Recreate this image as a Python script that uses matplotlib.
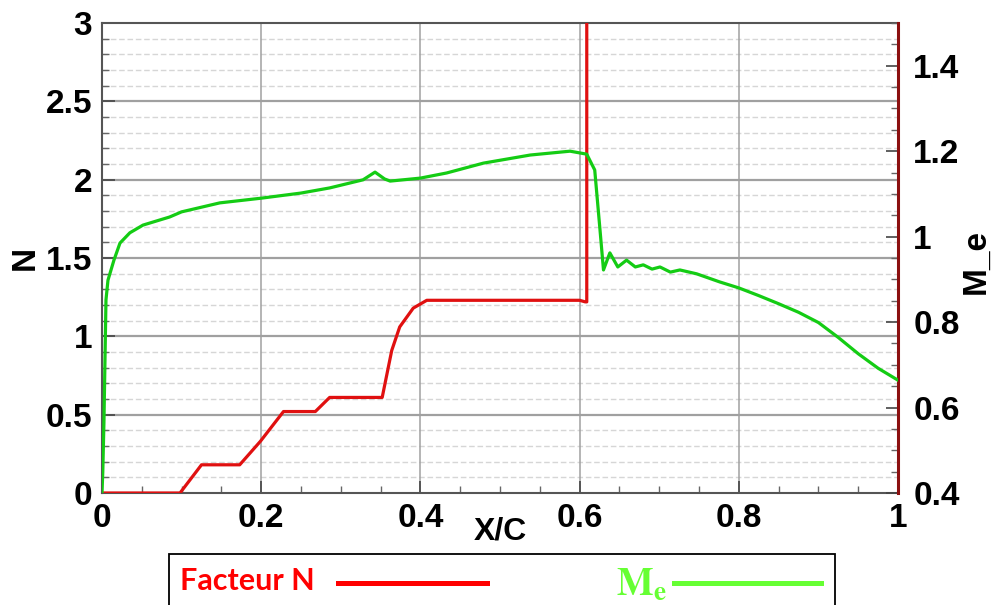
import matplotlib
matplotlib.use("Agg")
import matplotlib.pyplot as plt
from matplotlib.ticker import MultipleLocator, FuncFormatter
from matplotlib.patches import Rectangle

# ---- data ----
x_n = [0.0, 0.098, 0.125, 0.173, 0.199, 0.228, 0.268, 0.286, 0.352, 0.359,
       0.364, 0.374, 0.391, 0.408, 0.600, 0.607, 0.609, 0.609]
n_factor = [0.0, 0.0, 0.18, 0.18, 0.33, 0.52, 0.52, 0.61, 0.61, 0.785,
            0.91, 1.06, 1.18, 1.23, 1.23, 1.22, 1.22, 3.2]

x_me = [0.0, 0.001, 0.0025, 0.005, 0.0075, 0.015, 0.0226, 0.035, 0.0515, 0.085,
        0.10, 0.148, 0.20, 0.25, 0.286, 0.328, 0.343, 0.355, 0.362, 0.40,
        0.433, 0.479, 0.538, 0.588, 0.609, 0.619, 0.626, 0.630, 0.638, 0.648,
        0.659, 0.670, 0.680, 0.691, 0.701, 0.714, 0.726, 0.747, 0.776, 0.80,
        0.825, 0.85, 0.875, 0.90, 0.925, 0.95, 0.975, 1.0]
mach_e = [0.40, 0.45, 0.571, 0.852, 0.898, 0.945, 0.985, 1.009, 1.027, 1.046,
          1.058, 1.079, 1.090, 1.102, 1.114, 1.133, 1.151, 1.135, 1.130, 1.137,
          1.149, 1.172, 1.191, 1.200, 1.193, 1.156, 1.008, 0.922, 0.962, 0.929,
          0.945, 0.929, 0.934, 0.924, 0.929, 0.917, 0.922, 0.913, 0.894, 0.880,
          0.862, 0.843, 0.823, 0.799, 0.764, 0.726, 0.692, 0.664]

x_ticks = [0, 0.2, 0.4, 0.6, 0.8, 1]
n_ticks = [0, 0.5, 1, 1.5, 2, 2.5, 3]
me_ticks = [0.4, 0.6, 0.8, 1.0, 1.2, 1.4]

RED = "#e01010"
GREEN = "#14cc14"

W, H = 994, 605
fig = plt.figure(figsize=(W / 100, H / 100), dpi=100)
L, R, B, T = 102, 898, 493, 23
ax = fig.add_axes([L / W, 1 - B / H, (R - L) / W, (B - T) / H])
ax.set_xlim(0, 1)
ax.set_ylim(0, 3)

# grid
for v in [0.5, 1.0, 1.5, 2.0, 2.5]:
    ax.axhline(v, color="#a0a0a0", lw=1.6, zorder=1)
for i in range(1, 30):
    v = i / 10
    if i % 5:
        ax.axhline(v, color="#d6d6d6", lw=1.0, ls=(0, (4, 2)), zorder=1)
for v in [0.2, 0.4, 0.6, 0.8]:
    ax.axvline(v, color="#a0a0a0", lw=1.1, zorder=1)

ax.plot(x_n, n_factor, color=RED, lw=2.3, zorder=3, solid_joinstyle="round")

ax.set_xticks(x_ticks)
ax.set_yticks(n_ticks)
ax.xaxis.set_minor_locator(MultipleLocator(0.05))
ax.yaxis.set_minor_locator(MultipleLocator(0.1))
fmt = FuncFormatter(lambda v, p: ("%g" % v))
ax.xaxis.set_major_formatter(fmt)
ax.yaxis.set_major_formatter(fmt)
ax.tick_params(axis="both", which="major", direction="in", length=9, width=1.2,
               color="#444444", labelsize=24)
ax.tick_params(axis="both", which="minor", direction="in", length=5, width=1.0,
               color="#666666")
ax.tick_params(axis="x", pad=7, top=False)
ax.tick_params(axis="y", pad=7, right=False)
for lab in ax.get_xticklabels() + ax.get_yticklabels():
    lab.set_fontfamily("Liberation Sans")
    lab.set_fontweight("bold")
for s in ["left", "bottom", "top"]:
    ax.spines[s].set_color("#555555")
    ax.spines[s].set_linewidth(1.5)
ax.spines["right"].set_visible(False)

ax2 = ax.twinx()
ax2.set_ylim(0.4, 1.5)
ax2.plot(x_me, mach_e, color=GREEN, lw=2.3, zorder=4, solid_joinstyle="round")
ax2.set_yticks(me_ticks)
ax2.yaxis.set_major_formatter(fmt)
ax2.yaxis.set_minor_locator(MultipleLocator(0.05))
ax2.tick_params(axis="y", which="major", direction="in", length=9, width=1.2,
                color="#444444", labelsize=24, pad=11)
ax2.tick_params(axis="y", which="minor", direction="in", length=5, width=1.0,
                color="#666666")
for lab in ax2.get_yticklabels():
    lab.set_fontfamily("Liberation Sans")
    lab.set_fontweight("bold")
for s in ["left", "bottom", "top"]:
    ax2.spines[s].set_visible(False)
ax2.spines["right"].set_color("#8b1010")
ax2.spines["right"].set_linewidth(2.2)

# axis labels
fig.text(500 / W, 1 - 531 / H, "X/C", ha="center", va="center",
         family="Liberation Sans", weight="bold", size=23)
fig.text(25 / W, 1 - 258 / H, "N", ha="center", va="center", rotation=90,
         family="Liberation Sans", weight="bold", size=24)
fig.text(976 / W, 1 - 262 / H, "M_e", ha="center", va="center", rotation=90,
         family="Liberation Sans", weight="bold", size=24)

# legend box (cut at the bottom of the image)
fig.patches.append(Rectangle((169 / W, -0.05), (835 - 169) / W, 0.05 + (605 - 554) / H,
                             transform=fig.transFigure, fill=False,
                             edgecolor="black", lw=1.3, clip_on=False))
fig.text(180 / W, 1 - 581 / H, "Facteur N", ha="left", va="center",
         family="Lato", weight="bold", size=22, color="#ff0000")
fig.add_artist(plt.Line2D([338 / W, 487 / W], [1 - 583 / H, 1 - 583 / H],
                          transform=fig.transFigure, color="#ff0000", lw=3.6))
plt.rcParams["mathtext.fontset"] = "stix"
fig.text(616 / W, 1 - 584 / H, r"$\mathbf{M}_{\mathbf{e}}$", ha="left", va="center",
         size=28, color="#66ff33")
fig.add_artist(plt.Line2D([674 / W, 821 / W], [1 - 583 / H, 1 - 583 / H],
                          transform=fig.transFigure, color="#66ff33", lw=3.6))

fig.savefig("out.png", dpi=100)
